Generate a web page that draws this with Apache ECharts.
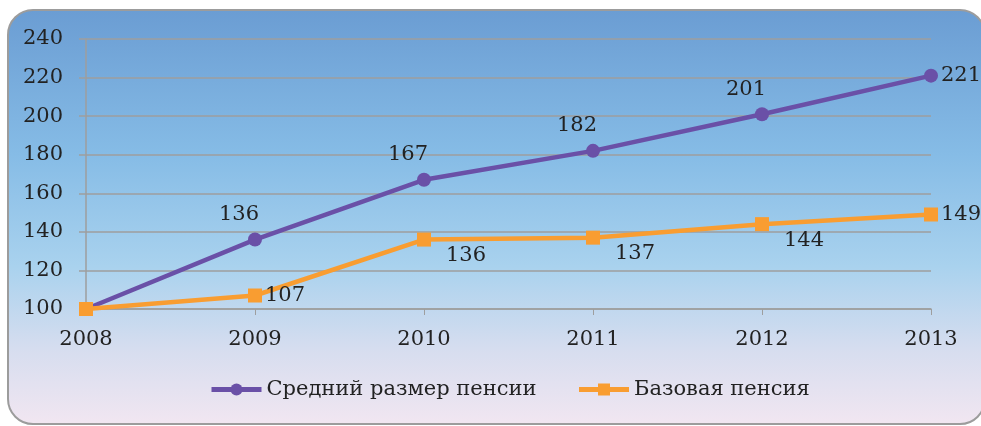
<!DOCTYPE html>
<html>
<head>
<meta charset="utf-8">
<script src="https://cdn.jsdelivr.net/npm/echarts@6/dist/echarts.min.js"></script>
<style>
  html, body { margin: 0; padding: 0; background: #fff; }
  #frame {
    position: absolute; left: 7px; top: 9px; width: 975px; height: 412px;
    border: 2px solid #9c9c9c; border-radius: 26px;
    background: linear-gradient(to bottom, #6b9dd3 0%, #86bce6 35%, #a9d2ee 62%, #d6ddef 82%, #f1e6f1 100%);
  }
  #chart { position: absolute; left: 0; top: 0; width: 981px; height: 426px; }
</style>
</head>
<body>
<div id="frame"></div>
<div id="chart"></div>
<script>
// данные
var years = ['2008', '2009', '2010', '2011', '2012', '2013'];
var avgPension = [100, 136, 167, 182, 201, 221];
var basePension = [100, 107, 136, 137, 144, 149];
var seriesNames = ['Средний размер пенсии', 'Базовая пенсия'];

var fontFam = 'DejaVu Serif';
var fs = 21;

// позиции подписей
var avgLabelPos = [[-16, -25], [-16, -25], [-16, -25], [-16, -25], [-16, -25], 'right'];
var baseLabelPos = ['right', 'right', [42, 16], [42, 16], [42, 16], 'right'];

function buildData(values, positions) {
  return values.map(function (v, i) {
    var p = positions[i];
    var item = { value: v, label: { show: i > 0 } };
    if (p === 'right') {
      item.label.position = 'right';
      item.label.distance = 3;
    } else {
      item.label.position = 'inside';
      item.label.offset = p;
    }
    return item;
  });
}

var myChart = echarts.init(document.getElementById('chart'));

var option = {
  backgroundColor: 'transparent',
  animation: false,
  textStyle: { fontFamily: fontFam },
  grid: { left: 86, right: 50, top: 39, bottom: 117 },
  legend: {
    bottom: 21,
    left: 204,
    itemWidth: 50,
    itemHeight: 15,
    itemGap: 40,
    lineStyle: { width: 5 },
    textStyle: { fontFamily: fontFam, fontSize: fs, color: '#222' },
    data: seriesNames
  },
  xAxis: {
    type: 'category',
    data: years,
    boundaryGap: false,
    axisLine: { lineStyle: { color: '#9e9e9e', width: 1.5 } },
    axisTick: { show: true, alignWithLabel: true, length: 6, lineStyle: { color: '#9e9e9e' } },
    axisLabel: { color: '#222', fontSize: fs, margin: 20, fontFamily: fontFam }
  },
  yAxis: {
    type: 'value',
    min: 100,
    max: 240,
    interval: 20,
    axisLine: { show: true, lineStyle: { color: '#9e9e9e', width: 1.5 } },
    axisTick: { show: true, length: 7, lineStyle: { color: '#9e9e9e', width: 1.5 } },
    splitLine: { lineStyle: { color: '#9e9e9e', width: 1.5 } },
    axisLabel: { color: '#222', fontSize: fs, margin: 23, fontFamily: fontFam }
  },
  series: [
    {
      name: seriesNames[0],
      type: 'line',
      symbol: 'circle',
      symbolSize: 14,
      z: 3,
      lineStyle: { color: '#6a50a7', width: 4.5 },
      itemStyle: { color: '#6a50a7' },
      label: { color: '#222', fontSize: fs, fontFamily: fontFam },
      data: buildData(avgPension, avgLabelPos)
    },
    {
      name: seriesNames[1],
      type: 'line',
      symbol: 'rect',
      symbolSize: 14,
      z: 4,
      lineStyle: { color: '#f99d31', width: 4.5 },
      itemStyle: { color: '#f99d31' },
      label: { color: '#222', fontSize: fs, fontFamily: fontFam },
      data: buildData(basePension, baseLabelPos)
    }
  ]
};
myChart.setOption(option);
</script>
</body>
</html>
